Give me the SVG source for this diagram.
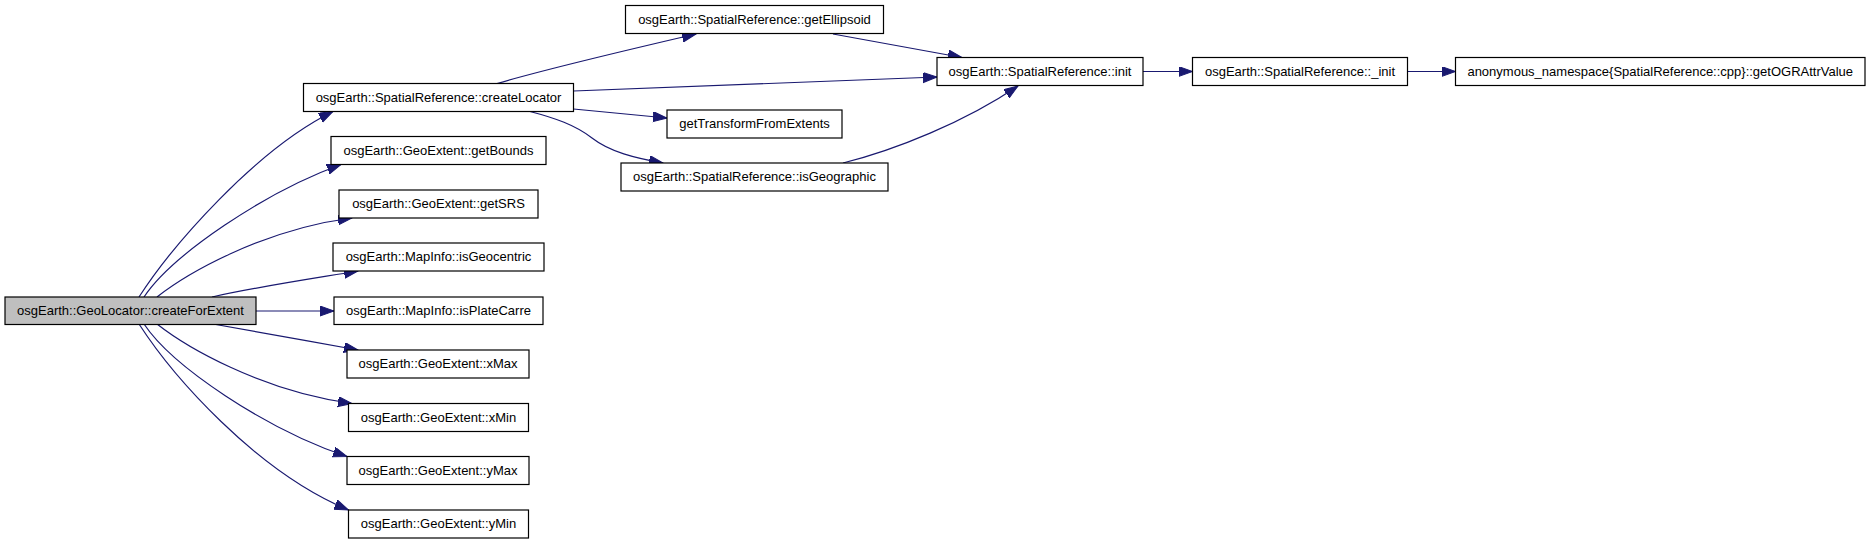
<svg xmlns="http://www.w3.org/2000/svg" width="1872" height="544" viewBox="0 0 1872 544">
<style>
.n rect{fill:#ffffff;stroke:#000000;stroke-width:1.2}
.n.root rect{fill:#bfbfbf}
.n text{font-family:"Liberation Sans",Arial,sans-serif;font-size:13px;fill:#000000;text-anchor:middle}
#edges path{fill:none;stroke:#191970;stroke-width:1.2;marker-end:url(#arr)}
</style>
<defs>
<marker id="arr" markerUnits="userSpaceOnUse" markerWidth="16" markerHeight="12" viewBox="0 0 16 12" refX="14" refY="5" orient="auto">
<path d="M0,0 L14,5 L0,10 z" fill="#191970" stroke="#191970" stroke-width="1"/>
</marker>
</defs>
<rect width="1872" height="544" fill="#ffffff"/>
<g id="edges">
<path d="M139,297 C172,246 255,150 333,111.5"/>
<path d="M144,297 C172,255 265,192 341,164.5"/>
<path d="M157,297 C185,275 260,230 352,218"/>
<path d="M212,297 C250,288 310,279 358,271"/>
<path d="M256,311 L334,311"/>
<path d="M213,324 C250,331 310,341 358,350"/>
<path d="M157,324 C185,346 260,391 352,403.5"/>
<path d="M144,324 C172,366 265,429 347,456.5"/>
<path d="M139,324 C172,375 255,471 348.5,510"/>
<path d="M497,83.5 C550,68 640,47 696,34"/>
<path d="M573.5,91 L937,77"/>
<path d="M573.5,109 L667,118"/>
<path d="M530,111.5 C555,118 575,125 592,138 C610,152 635,158 663,163"/>
<path d="M833,34 L962,57.5"/>
<path d="M843,163 C895,150 965,122 1018,86"/>
<path d="M1143,71.5 L1192.5,71.5"/>
<path d="M1407.5,71.5 L1455.5,71.5"/>
</g>
<g id="node-createForExtent" class="n root"><rect x="5" y="297" width="251" height="27.5"/><text x="130.5" y="315">osgEarth::GeoLocator::createForExtent</text></g>
<g id="node-createLocator" class="n"><rect x="303.5" y="83.5" width="270" height="28"/><text x="438.5" y="101.5">osgEarth::SpatialReference::createLocator</text></g>
<g id="node-getBounds" class="n"><rect x="331" y="136.5" width="215" height="28"/><text x="438.5" y="154.5">osgEarth::GeoExtent::getBounds</text></g>
<g id="node-getSRS" class="n"><rect x="339" y="190" width="199" height="28"/><text x="438.5" y="208">osgEarth::GeoExtent::getSRS</text></g>
<g id="node-isGeocentric" class="n"><rect x="333" y="243" width="211" height="28"/><text x="438.5" y="261">osgEarth::MapInfo::isGeocentric</text></g>
<g id="node-isPlateCarre" class="n"><rect x="334" y="297" width="209" height="27.5"/><text x="438.5" y="315">osgEarth::MapInfo::isPlateCarre</text></g>
<g id="node-xMax" class="n"><rect x="347" y="350" width="182" height="28"/><text x="438" y="368">osgEarth::GeoExtent::xMax</text></g>
<g id="node-xMin" class="n"><rect x="348.5" y="403.5" width="180" height="28"/><text x="438.5" y="421.5">osgEarth::GeoExtent::xMin</text></g>
<g id="node-yMax" class="n"><rect x="347" y="456.5" width="182" height="28"/><text x="438" y="474.5">osgEarth::GeoExtent::yMax</text></g>
<g id="node-yMin" class="n"><rect x="348.5" y="510" width="180" height="28"/><text x="438.5" y="528">osgEarth::GeoExtent::yMin</text></g>
<g id="node-getEllipsoid" class="n"><rect x="625.5" y="5.5" width="258" height="28"/><text x="754.5" y="23.5">osgEarth::SpatialReference::getEllipsoid</text></g>
<g id="node-getTransformFromExtents" class="n"><rect x="667" y="110" width="175" height="28"/><text x="754.5" y="128">getTransformFromExtents</text></g>
<g id="node-isGeographic" class="n"><rect x="621" y="163" width="267" height="28"/><text x="754.5" y="181">osgEarth::SpatialReference::isGeographic</text></g>
<g id="node-init" class="n"><rect x="937" y="57.5" width="206" height="28"/><text x="1040" y="75.5">osgEarth::SpatialReference::init</text></g>
<g id="node-_init" class="n"><rect x="1192.5" y="57.5" width="215" height="28"/><text x="1300" y="75.5">osgEarth::SpatialReference::_init</text></g>
<g id="node-getOGRAttrValue" class="n"><rect x="1455.5" y="57.5" width="409.5" height="28"/><text x="1660.25" y="75.5">anonymous_namespace{SpatialReference::cpp}::getOGRAttrValue</text></g>
</svg>
